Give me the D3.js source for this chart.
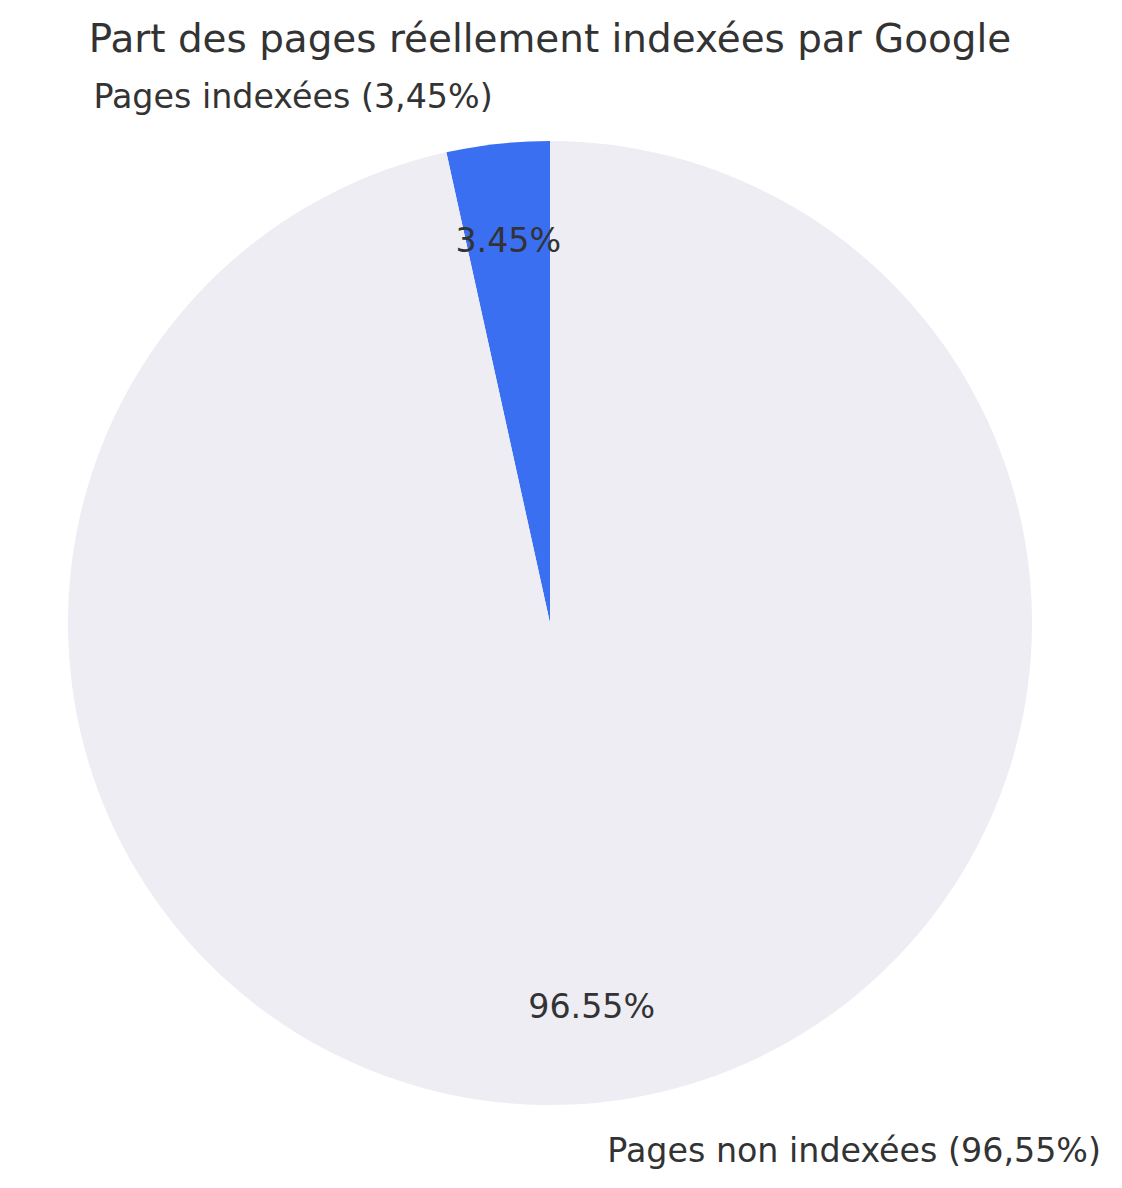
<!DOCTYPE html>
<html>
<head>
<meta charset="utf-8">
<script src="https://cdn.jsdelivr.net/npm/d3@7"></script>
<style>
  html, body { margin: 0; padding: 0; background: #ffffff; }
  svg { display: block; font-family: "DejaVu Sans", sans-serif; }
</style>
</head>
<body>
<svg id="chart" width="1122" height="1188"></svg>
<script>
const title = "Part des pages réellement indexées par Google";
const categories = ["Pages indexées", "Pages non indexées"];
const values = [3.45, 96.55];
const outerLabels = ["Pages indexées (3,45%)", "Pages non indexées (96,55%)"];
const colors = ["#3b6ff2", "#ededf3"];

const W = 1122, H = 1188;
const cx = 550, cy = 623, R = 482;
const textColor = "#333333";

const svg = d3.select("#chart");

svg.append("text")
  .attr("x", 550).attr("y", 52)
  .attr("text-anchor", "middle")
  .attr("font-size", 38.9)
  .attr("fill", textColor)
  .text(title);

const data = categories.map((c, i) => ({ name: c, value: values[i], label: outerLabels[i], color: colors[i] }));

const pie = d3.pie().sort(null).value(d => d.value)
  .startAngle(0).endAngle(-2 * Math.PI);
const arcs = pie(data);

const arc = d3.arc().innerRadius(0).outerRadius(R);
const labelArc = d3.arc().innerRadius(R * 1.1).outerRadius(R * 1.1);
const pctArc = d3.arc().innerRadius(R * 0.8).outerRadius(R * 0.8);

const g = svg.append("g").attr("transform", `translate(${cx},${cy})`);

g.selectAll("path.slice").data(arcs).join("path")
  .attr("class", "slice")
  .attr("d", arc)
  .attr("fill", d => d.data.color);

g.selectAll("text.outer").data(arcs).join("text")
  .attr("class", "outer")
  .attr("x", d => labelArc.centroid(d)[0])
  .attr("y", d => labelArc.centroid(d)[1] + 12)
  .attr("text-anchor", d => labelArc.centroid(d)[0] < 0 ? "end" : "start")
  .attr("font-size", 33.3)
  .attr("fill", textColor)
  .text(d => d.data.label);

g.selectAll("text.pct").data(arcs).join("text")
  .attr("class", "pct")
  .attr("x", d => pctArc.centroid(d)[0])
  .attr("y", d => pctArc.centroid(d)[1] + 12)
  .attr("text-anchor", "middle")
  .attr("font-size", 33.3)
  .attr("fill", textColor)
  .text(d => d.data.value.toFixed(2) + "%");
</script>
</body>
</html>
